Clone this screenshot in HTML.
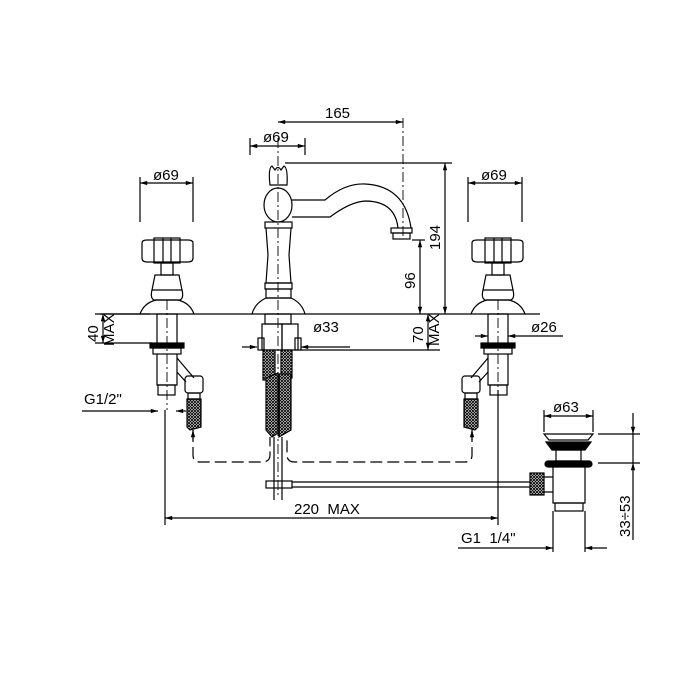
<!DOCTYPE html>
<html><head><style>body{margin:0;background:#fff}svg{display:block}text{font-family:"Liberation Sans",sans-serif;font-size:15px;fill:#000}</style></head>
<body>
<svg width="700" height="700" viewBox="0 0 700 700" xmlns="http://www.w3.org/2000/svg">
<defs>
<pattern id="h" width="3" height="3" patternUnits="userSpaceOnUse"><rect width="3" height="3" fill="#fff"/><path d="M0 0L3 3M3 0L0 3" stroke="#000" stroke-width="0.9"/></pattern>
<marker id="a" viewBox="0 0 10 10" refX="10" refY="5" markerWidth="9" markerHeight="6" orient="auto-start-reverse"><path d="M0 2L10 5L0 8z" fill="#000"/></marker>
</defs>
<g fill="none" stroke="#000" stroke-width="1.2">
<line x1="100" y1="314" x2="540" y2="314"/>
<g stroke-dasharray="10 3 2 3" stroke-width="0.9">
<line x1="278" y1="138" x2="278" y2="495"/>
<line x1="403" y1="118" x2="403" y2="236"/>
<line x1="167" y1="300" x2="167" y2="410"/>
<line x1="498" y1="300" x2="498" y2="390"/>
</g>
<line x1="278" y1="122" x2="403" y2="122" marker-start="url(#a)" marker-end="url(#a)"/>
<line x1="250" y1="146" x2="305" y2="146" marker-start="url(#a)" marker-end="url(#a)"/>
<line x1="250" y1="138" x2="250" y2="155"/><line x1="305" y1="138" x2="305" y2="155"/>
<line x1="285" y1="163" x2="452" y2="163"/>
<line x1="445" y1="163" x2="445" y2="314" marker-start="url(#a)" marker-end="url(#a)"/>
<line x1="412" y1="240" x2="425" y2="240"/>
<line x1="420" y1="240" x2="420" y2="314" marker-start="url(#a)" marker-end="url(#a)"/>
<line x1="140" y1="183" x2="193" y2="183" marker-start="url(#a)" marker-end="url(#a)"/>
<line x1="140" y1="177" x2="140" y2="222"/><line x1="193" y1="177" x2="193" y2="222"/>
<line x1="468" y1="183" x2="522" y2="183" marker-start="url(#a)" marker-end="url(#a)"/>
<line x1="468" y1="177" x2="468" y2="222"/><line x1="522" y1="177" x2="522" y2="222"/>
<path d="M270 185 Q268 168 272 166 L275 170 Q278 165 281 170 L284 166 Q288 168 287 185 Z"/>
<ellipse cx="278" cy="205" rx="14" ry="17"/>
<rect x="265" y="222" width="27" height="6"/>
<path d="M266 228 L268 255 L266 283 L291 283 L289 255 L291 228"/>
<rect x="265" y="283" width="27" height="6"/><rect x="266" y="289" width="25" height="9"/>
<path d="M252 314 Q255 303 266 298 L291 298 Q302 303 305 314"/>
<path d="M292 200 L325 200 Q345 183 365 184 Q405 186 411 228"/>
<path d="M292 217 L330 217 Q350 202 365 201 Q395 201 398 228"/>
<rect x="391" y="228" width="21" height="5"/><rect x="393" y="233" width="17" height="6"/>
<g id="valve">
<path d="M142 243 L142 258 Q142 262 147 262 L188 262 Q193 262 193 258 L193 243 Q193 240 188 240 L147 240 Q142 240 142 243Z"/>
<rect x="154" y="238" width="26" height="25"/>
<line x1="163" y1="238" x2="163" y2="263"/><line x1="171" y1="238" x2="171" y2="263"/>
<rect x="161" y="263" width="12" height="12"/>
<path d="M155 275 L179 275 L182 290 L152 290 Z"/>
<path d="M152 290 Q150 298 154 300 L180 300 Q184 298 182 290"/>
<path d="M140 314 Q144 303 156 300 L178 300 Q190 303 194 314"/>
<rect x="157" y="314" width="20" height="30"/>
<rect x="150" y="343" width="34" height="5" fill="#000"/>
<rect x="153" y="348" width="28" height="6"/>
<path d="M157 354 L157 385 L177 385 L177 354"/>
<rect x="158" y="385" width="17" height="10"/>
<path d="M177 358 L194 378 M177 372 L186 382"/>
<rect x="185" y="376" width="18" height="17" rx="3"/>
<rect x="188" y="393" width="12" height="6"/>
<path d="M187 399 L201 399 L201 427 L190 430 L187 427 Z" fill="url(#h)"/>
</g>
<use href="#valve" transform="translate(665 0) scale(-1 1)"/>
<rect x="265" y="314" width="26" height="10"/>
<rect x="262" y="324" width="20" height="26"/><rect x="282" y="324" width="16" height="26"/>
<rect x="258" y="338" width="6" height="12"/><rect x="295" y="338" width="6" height="12"/>
<path d="M263 350 L275 350 L275 380 L263 380 Z" fill="url(#h)"/>
<path d="M281 350 L292 350 L292 378 L281 378 Z" fill="url(#h)"/>
<path d="M266 378 L278 373 L278 433 L272 437 L266 430 Z" fill="url(#h)"/>
<path d="M279 374 L291 374 L291 430 L279 437 Z" fill="url(#h)"/>
<line x1="274" y1="437" x2="274" y2="500"/><line x1="282" y1="437" x2="282" y2="500"/>
<rect x="266" y="481" width="26" height="7"/>
<line x1="292" y1="482" x2="530" y2="482"/><line x1="292" y1="487" x2="530" y2="487"/>
<path d="M193 430 L193 455 Q193 462 200 462 L262 462 Q270 462 270 455 L270 437" stroke-dasharray="12 5"/>
<path d="M472 430 L472 455 Q472 462 465 462 L295 462 Q287 462 287 455 L287 437" stroke-dasharray="12 5"/>
<line x1="193" y1="440" x2="193" y2="430" marker-end="url(#a)"/>
<line x1="472" y1="440" x2="472" y2="430" marker-end="url(#a)"/>
<path d="M544 434 L593 434 L588 440 L549 440 Z"/>
<path d="M546 442 L591 442 L585 450 L552 450 Z" fill="#000"/>
<rect x="556" y="450" width="25" height="11"/>
<rect x="545" y="461" width="47" height="6" rx="3" fill="#000"/>
<rect x="530" y="473" width="14" height="22" fill="url(#h)"/>
<path d="M544 477 L553 477 M544 492 L553 492"/>
<path d="M553 467 L553 503 L585 503 L585 467"/>
<rect x="555" y="503" width="28" height="8"/>
<line x1="95" y1="314" x2="150" y2="314"/><line x1="95" y1="343" x2="152" y2="343"/>
<line x1="103" y1="314" x2="103" y2="343" marker-start="url(#a)" marker-end="url(#a)"/>
<line x1="300" y1="350" x2="440" y2="350"/>
<line x1="428" y1="314" x2="428" y2="350" marker-start="url(#a)" marker-end="url(#a)"/>
<line x1="242" y1="347" x2="257" y2="347" marker-end="url(#a)"/>
<line x1="350" y1="347" x2="301" y2="347" marker-end="url(#a)"/>
<line x1="475" y1="336" x2="488" y2="336" marker-end="url(#a)"/>
<line x1="563" y1="336" x2="508" y2="336" marker-end="url(#a)"/>
<line x1="82" y1="411" x2="158" y2="411" marker-end="url(#a)"/>
<line x1="186" y1="411" x2="176" y2="411" marker-end="url(#a)"/>
<line x1="165" y1="410" x2="165" y2="525"/>
<line x1="498" y1="390" x2="498" y2="525"/>
<line x1="165" y1="518" x2="498" y2="518" marker-start="url(#a)" marker-end="url(#a)"/>
<line x1="544" y1="410" x2="544" y2="432"/><line x1="593" y1="410" x2="593" y2="432"/>
<line x1="544" y1="416" x2="593" y2="416" marker-start="url(#a)" marker-end="url(#a)"/>
<line x1="598" y1="434" x2="640" y2="434"/><line x1="598" y1="463" x2="640" y2="463"/>
<line x1="633" y1="413" x2="633" y2="434" marker-end="url(#a)"/>
<line x1="633" y1="434" x2="633" y2="463"/>
<line x1="633" y1="480" x2="633" y2="463" marker-end="url(#a)"/>
<line x1="633" y1="480" x2="633" y2="540"/>
<line x1="553" y1="511" x2="553" y2="552"/><line x1="585" y1="511" x2="585" y2="552"/>
<line x1="458" y1="548" x2="553" y2="548" marker-end="url(#a)"/>
<line x1="607" y1="548" x2="585" y2="548" marker-end="url(#a)"/>
</g>
<text x="325" y="118">165</text>
<text x="263" y="142">ø69</text>
<text x="153" y="180">ø69</text>
<text x="481" y="180">ø69</text>
<text transform="translate(440 250) rotate(-90)">194</text>
<text transform="translate(415 289) rotate(-90)">96</text>
<text transform="translate(98 342) rotate(-90)">40</text>
<text transform="translate(114 346) rotate(-90)" font-size="13">MAX</text>
<text transform="translate(423 343) rotate(-90)">70</text>
<text transform="translate(439 346) rotate(-90)" font-size="13">MAX</text>
<text x="313" y="332">ø33</text>
<text x="531" y="332">ø26</text>
<text x="84" y="404">G1/2"</text>
<text x="294" y="514">220&#160;&#160;MAX</text>
<text x="553" y="412">ø63</text>
<text x="461" y="543">G1&#160;&#160;1/4"</text>
<text transform="translate(630 537) rotate(-90)">33÷53</text>
</svg>
</body></html>
